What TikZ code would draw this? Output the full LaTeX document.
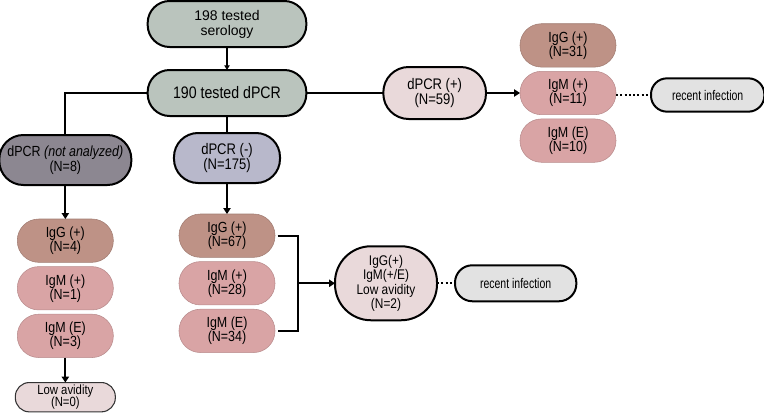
\documentclass[tikz,border=0pt]{standalone}
\usepackage{fontspec}
\setmainfont{Liberation Sans}
\newfontfamily\narrowfont[FakeStretch=0.85]{Liberation Sans}
\newfontfamily\narrowerfont[FakeStretch=0.75]{Liberation Sans}
\usetikzlibrary{arrows.meta, positioning}
\definecolor{seroGreen}{RGB}{186,196,189}
\definecolor{naGray}{RGB}{140,135,145}
\definecolor{negLav}{RGB}{184,184,203}
\definecolor{posPink}{RGB}{233,217,218}
\definecolor{iggBrown}{RGB}{190,146,134}
\definecolor{igmPink}{RGB}{217,164,165}
\definecolor{recGray}{RGB}{226,226,226}

\begin{document}
\begin{tikzpicture}[
  node distance=3.2pt,
  base/.style={rectangle, align=center, inner sep=1pt, outer sep=0pt},
  main/.style={base, draw=black, line width=1.5pt, fill=seroGreen,
               rounded corners=16.5pt, minimum width=119pt, minimum height=34.5pt},
  group/.style={base, draw=black, line width=1.5pt, rounded corners=18pt,
                minimum height=37.5pt, font=\narrowfont\fontsize{11.5}{11}\selectfont},
  ab/.style={base, draw=#1!85!black, line width=0.4pt, fill=#1, rounded corners=16pt,
             minimum width=72pt, minimum height=32.5pt,
             font=\narrowfont\fontsize{11}{10.5}\selectfont},
  lowbox/.style={base, draw=black!80, line width=0.8pt, fill=posPink, rounded corners=10.5pt,
                 minimum width=75pt, minimum height=22pt,
                 font=\narrowfont\fontsize{10}{9.5}\selectfont},
  recent/.style={base, draw=black, line width=1.5pt, fill=recGray, rounded corners=12pt,
                 minimum height=25pt, font=\narrowerfont\fontsize{10.5}{10}\selectfont},
  conn/.style={line width=1.7pt, black},
  arrow/.style={conn, -{Triangle[length=4.5pt, width=5.5pt]}},
  dots/.style={line width=1.6pt, dash pattern=on 1.6pt off 1.6pt},
]
\useasboundingbox (-170.25pt,18pt) rectangle (402.75pt,-292.5pt);

%% Top of the tree
\node[main, font=\fontsize{10.5}{11.3}\selectfont] (ser) at (0,0) {198 tested\\serology};
\node[main, font=\narrowfont\fontsize{12.5}{12}\selectfont, below=17.25pt of ser] (pcr) {190 tested dPCR};

%% dPCR groups
\node[group, fill=negLav, minimum width=79.5pt, below=12.75pt of pcr] (neg) {dPCR (-)\\(N=175)};
\node[group, fill=naGray, minimum width=99pt, left=32pt of neg, yshift=-1.5pt,
      font=\narrowfont\fontsize{11}{11}\selectfont] (nan) {dPCR \textit{(not analyzed)}\\(N=8)};
\node[group, fill=posPink, minimum width=77pt, minimum height=39pt, rounded corners=19pt,
      right=57.75pt of pcr] (pos) {dPCR (+)\\(N=59)};

%% dPCR (+) branch
\node[ab=igmPink, right=25.5pt of pos] (pM) {IgM (+)\\(N=11)};
\node[ab=iggBrown, above=of pM] (pG) {IgG (+)\\(N=31)};
\node[ab=igmPink, below=of pM] (pE) {IgM (E)\\(N=10)};
\node[recent, minimum width=85pt, right=26.25pt of pM, yshift=-1.5pt] (rec1) {recent infection};

%% not analyzed branch
\node[ab=iggBrown, below=25.5pt of nan] (nG) {IgG (+)\\(N=4)};
\node[ab=igmPink, below=of nG] (nM) {IgM (+)\\(N=1)};
\node[ab=igmPink, below=of nM] (nE) {IgM (E)\\(N=3)};
\node[lowbox, below=18.75pt of nE] (nLow) {Low avidity\\(N=0)};

%% dPCR (-) branch
\node[ab=iggBrown, below=23.25pt of neg] (mG) {IgG (+)\\(N=67)};
\node[ab=igmPink, below=of mG] (mM) {IgM (+)\\(N=28)};
\node[ab=igmPink, below=of mM] (mE) {IgM (E)\\(N=34)};
\coordinate[right=17pt of mM] (brk);
\node[base, rounded corners=27pt, draw=black, line width=1.5pt, fill=posPink,
      minimum width=76.5pt, minimum height=55.5pt,
      font=\narrowfont\fontsize{10.5}{9.5}\selectfont, right=45pt of mM] (combo)
      {IgG(+)\\IgM(+/E)\\Low avidity\\(N=2)};
\node[recent, minimum width=91pt, minimum height=27pt, rounded corners=13pt,
      right=13.5pt of combo] (rec2) {recent infection};

%% Connectors
\draw[line width=0.8pt, -{Triangle[length=3.5pt, width=4pt]}] (ser) -- (pcr);
\draw[conn] (pcr.west) -| (nan.north);
\draw[conn] (pcr) -- (neg);
\draw[conn] (pcr) -- (pos);
\draw[arrow] (pos) -- (pM);
\draw[dots] (pM.east |- rec1) -- (rec1);
\draw[arrow] (nan) -- (nG);
\draw[arrow] (nE) -- (nLow);
\draw[arrow] (neg) -- (mG);
\draw[conn] ([xshift=2pt]mG.east) -| (brk) |- ([xshift=2pt]mE.east);
\draw[arrow] (brk) -- (combo);
\draw[dots] (combo) -- (rec2);

\end{tikzpicture}
\end{document}
